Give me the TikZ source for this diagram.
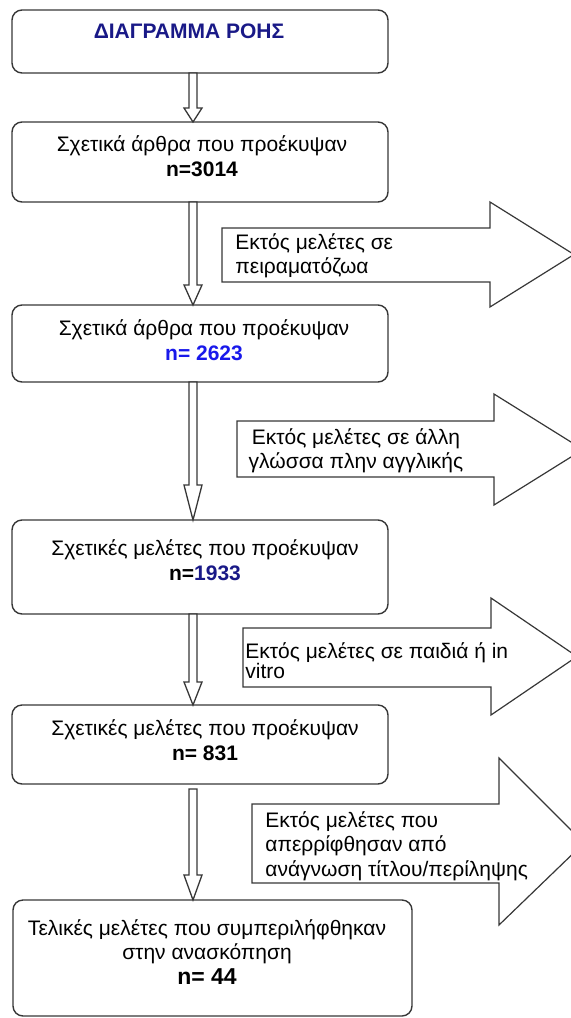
\documentclass[tikz,border=0pt]{standalone}
\usepackage{fontspec}
\setmainfont{Liberation Sans}
\usepackage{xcolor}
\usetikzlibrary{calc}

\definecolor{navyblue}{RGB}{25,25,135}
\definecolor{brightblue}{RGB}{25,25,235}
\definecolor{linegray}{RGB}{55,55,55}

\begin{document}
\begin{tikzpicture}[x=0.5pt,y=-0.5pt,
    box/.style={draw=linegray, line width=0.7pt, rounded corners=5pt, inner sep=0pt, outer sep=0pt, minimum width=188pt},
    downarr/.style={draw=linegray, line width=0.65pt, fill=white},
    sidearr/.style={draw=linegray, line width=0.6pt, fill=white},
    txt/.style={align=center, inner sep=0pt, font=\fontsize{10.5}{12.25}\selectfont}]
    \useasboundingbox (0,0) rectangle (571,1018);

    % the boxes of the flow
    \node[box, minimum height=31.5pt] (b1) at (200,41.5) {};
    \node[box, minimum height=40pt] (b2) at (200,162) {};
    \node[box, minimum height=38.5pt] (b3) at (200,343.5) {};
    \node[box, minimum height=47pt] (b4) at (200,567) {};
    \node[box, minimum height=39.5pt] (b5) at (200,744.5) {};
    \node[box, minimum height=58pt, minimum width=199.5pt] (b6) at (212.5,958) {};

    % hollow arrows down
    \coordinate (ax) at (193,0);
    \foreach \a/\b/\s/\h in {b1/b2/0/14, b2/b3/0/20, b3/b4/0/35, b4/b5/0/23, b5/b6/5/25}
        \draw[downarr] ($(\a.south -| ax)+(-4,\s)$) -- ($(\b.north -| ax)+(-4,-\h)$) -- ($(\b.north -| ax)+(-9,-\h)$) -- (\b.north -| ax) -- ($(\b.north -| ax)+(9,-\h)$) -- ($(\b.north -| ax)+(4,-\h)$) -- ($(\a.south -| ax)+(4,\s)$) -- cycle;

    % arrows to the right
    \draw[sidearr] (222,228) -- (490,228) -- (490,202) -- (574,254.5) -- (490,307) -- (490,282) -- (222,282) -- cycle;
    \draw[sidearr] (237,421) -- (494,421) -- (494,394) -- (583,449.5) -- (494,505) -- (494,477) -- (237,477) -- cycle;
    \draw[sidearr] (243,628) -- (491,628) -- (491,598) -- (577,656.5) -- (491,715) -- (491,687) -- (243,687) -- cycle;
    \draw[sidearr] (252,804) -- (499,804) -- (499,758) -- (584,843) -- (499,925) -- (499,883) -- (252,883) -- cycle;

    \node[txt, font=\bfseries\fontsize{10.5}{12}\selectfont, text=navyblue] (t1) at (189,31) {ΔΙΑΓΡΑΜΜΑ ΡΟΗΣ};
    \node[txt] (t2) at (202,156) {Σχετικά άρθρα που προέκυψαν\\\textbf{n=3014}};
    \node[txt] (t3) at (204,340) {Σχετικά άρθρα που προέκυψαν\\\textbf{\color{brightblue}n= 2623}};
    \node[txt] (t4) at (205,560) {Σχετικές μελέτες που προέκυψαν\\\textbf{n=\color{navyblue}1933}};
    \node[txt] (t5) at (205,740) {Σχετικές μελέτες που προέκυψαν\\\textbf{n= 831}};
    \node[txt] (t6) at (207,952) {Τελικές μελέτες που συμπεριλήφθηκαν\\στην ανασκόπηση\\{\fontsize{11.5}{12}\selectfont\textbf{n= 44}}};

    \node[txt, align=left, anchor=west] (s1) at (235,256) {Εκτός μελέτες σε\\πειραματόζωα};
    \node[txt] (s2) at (356,451) {Εκτός μελέτες σε άλλη\\γλώσσα πλην αγγλικής};
    \node[txt, align=left, anchor=west, font=\fontsize{10.5}{10}\selectfont] (s3) at (245,661) {Εκτός μελέτες σε παιδιά ή in\\vitro};
    \node[txt, align=left, anchor=west] (s4) at (265,846) {Εκτός μελέτες που\\απερρίφθησαν από\\ανάγνωση τίτλου/περίληψης};
\end{tikzpicture}
\end{document}
